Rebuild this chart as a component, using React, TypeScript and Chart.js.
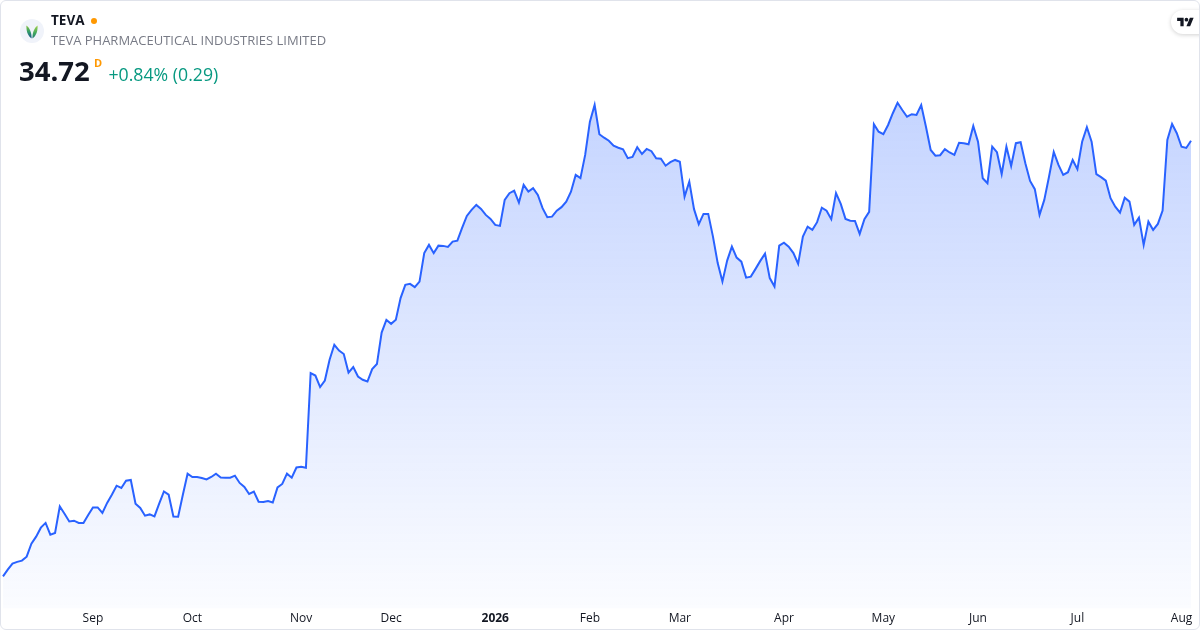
import React, { useEffect, useRef } from "react";
import { Chart, registerables } from "chart.js";

Chart.register(...registerables);

// Daily closes, one per trading day (Aug 5 2025 .. Aug 5 2026)
const prices: number[] = [
  17.28, 17.55, 17.79, 17.86, 17.91, 18.07, 18.59, 18.87, 19.23, 19.42,
  18.95, 19.02, 20.08, 19.79, 19.48, 19.51, 19.42, 19.42, 19.74, 20.04,
  20.04, 19.82, 20.22, 20.55, 20.91, 20.82, 21.11, 21.14, 20.19, 20.02,
  19.71, 19.76, 19.68, 20.19, 20.68, 20.55, 19.68, 19.67, 20.55, 21.39,
  21.26, 21.26, 21.22, 21.16, 21.26, 21.39, 21.24, 21.23, 21.23, 21.31,
  21.02, 20.86, 20.58, 20.67, 20.27, 20.26, 20.30, 20.24, 20.84, 20.98,
  21.39, 21.23, 21.64, 21.67, 21.63, 25.42, 25.32, 24.86, 25.12, 25.95,
  26.55, 26.32, 26.18, 25.44, 25.66, 25.28, 25.15, 25.08, 25.58, 25.78,
  27.04, 27.55, 27.39, 27.55, 28.42, 28.95, 28.99, 28.86, 29.08, 30.22,
  30.55, 30.22, 30.52, 30.51, 30.47, 30.68, 30.72, 31.23, 31.71, 31.95,
  32.15, 31.99, 31.75, 31.59, 31.35, 31.31, 32.35, 32.62, 32.72, 32.24,
  32.95, 32.68, 32.82, 32.55, 32.02, 31.66, 31.68, 31.92, 32.06, 32.28,
  32.68, 33.35, 33.22, 34.15, 35.48, 36.15, 34.98, 34.84, 34.72, 34.52,
  34.44, 34.38, 34.02, 34.07, 34.46, 34.19, 34.39, 34.30, 34.02, 34.00,
  33.72, 33.86, 33.95, 33.88, 32.48, 33.08, 31.98, 31.38, 31.79, 31.79,
  30.88, 29.82, 29.08, 29.92, 30.48, 30.04, 29.88, 29.24, 29.28, 29.59,
  29.91, 30.20, 29.22, 28.88, 30.52, 30.64, 30.48, 30.22, 29.79, 30.88,
  31.28, 31.15, 31.46, 32.04, 31.92, 31.58, 32.62, 32.19, 31.59, 31.52,
  31.51, 30.99, 31.58, 31.87, 35.38, 35.08, 34.98, 35.35, 35.82, 36.24,
  35.95, 35.68, 35.78, 35.75, 36.15, 35.28, 34.35, 34.12, 34.14, 34.38,
  34.25, 34.15, 34.64, 34.62, 34.58, 35.31, 34.68, 33.22, 33.02, 34.48,
  34.26, 33.39, 34.48, 33.71, 34.62, 34.66, 33.82, 33.11, 32.78, 31.75,
  32.35, 33.28, 34.27, 33.75, 33.35, 33.46, 33.95, 33.58, 34.68, 35.26,
  34.68, 33.38, 33.26, 33.12, 32.42, 32.08, 31.84, 32.44, 32.28, 31.35,
  31.64, 30.55, 31.48, 31.15, 31.39, 31.92, 34.75, 35.39, 35.02, 34.48,
  34.43, 34.72,
];

const tickLabels: string[] = ["Sep", "Oct", "Nov", "Dec", "2026", "Feb", "Mar", "Apr", "May", "Jun", "Jul", "Aug"];
// index of the first trading day of each month in `prices`
const tickIndices: number[] = [19, 40, 63, 82, 104, 124, 143, 165, 186, 206, 227, 249];

const symbol = "TEVA";
const companyName = "TEVA PHARMACEUTICAL INDUSTRIES LIMITED";
const lastPrice = "34.72";
const changeText = "+0.84% (0.29)";

const yMin = 15.99;
const yMax = 36.75;

const FONT = "'Open Sans', 'Noto Sans', sans-serif";

function Logo() {
  return (
    <svg width="24" height="24" viewBox="0 0 24 24" style={{ position: "absolute", left: 19, top: 18 }}>
      <defs>
        <linearGradient id="lg1" x1="0" y1="0" x2="0" y2="1">
          <stop offset="0" stopColor="#8cc63f" />
          <stop offset="0.5" stopColor="#2f9a6b" />
          <stop offset="1" stopColor="#1c4f8c" />
        </linearGradient>
        <linearGradient id="lg2" x1="0" y1="0" x2="0" y2="1">
          <stop offset="0" stopColor="#a5d34a" />
          <stop offset="0.6" stopColor="#3fa65e" />
          <stop offset="1" stopColor="#237a78" />
        </linearGradient>
      </defs>
      <circle cx="12" cy="12" r="12" fill="#f0f3fa" />
      <path d="M11.6 19.5 C8.2 17 6.2 13 6.4 6.4 C9.6 8.6 11.6 13 11.6 19.5 Z" fill="url(#lg1)" />
      <path d="M12.4 19.5 C15.8 17 17.8 13 17.6 6.4 C14.4 8.6 12.4 13 12.4 19.5 Z" fill="url(#lg2)" />
    </svg>
  );
}

export default function App() {
  const canvasRef = useRef<HTMLCanvasElement | null>(null);

  useEffect(() => {
    if (!canvasRef.current) return;
    const labels = prices.map((_, i) => {
      const k = tickIndices.indexOf(i);
      return k >= 0 ? tickLabels[k] : "";
    });
    const chart = new Chart(canvasRef.current, {
      type: "line",
      data: {
        labels,
        datasets: [
          {
            data: prices,
            borderColor: "#2962ff",
            borderWidth: 2,
            pointRadius: 0,
            pointHoverRadius: 0,
            tension: 0,
            fill: "start",
            backgroundColor: (ctx: any) => {
              const { chart } = ctx;
              const area = chart.chartArea;
              if (!area) return "rgba(41,98,255,0.15)";
              const g = chart.ctx.createLinearGradient(0, area.top, 0, area.bottom);
              g.addColorStop(0, "rgba(41,98,255,0.28)");
              g.addColorStop(1, "rgba(41,98,255,0.02)");
              return g;
            },
          },
        ],
      },
      options: {
        animation: false,
        responsive: false,
        devicePixelRatio: 1,
        layout: { padding: { left: 3, right: 9, top: 90, bottom: 1 } },
        plugins: { legend: { display: false }, tooltip: { enabled: false } },
        scales: {
          x: {
            type: "category",
            offset: false,
            grid: { display: false, drawTicks: false },
            border: { display: false },
            ticks: {
              autoSkip: false,
              maxRotation: 0,
              minRotation: 0,
              padding: 3,
              color: "#131722",
              font: (ctx: any) => ({
                family: FONT,
                size: 12,
                weight: ctx.tick && ctx.tick.label === "2026" ? "bold" : "normal",
              }),
            },
          },
          y: { display: false, min: yMin, max: yMax },
        },
      },
    });
    return () => chart.destroy();
  }, []);

  return (
    <div
      style={{
        position: "fixed",
        left: 0,
        top: 0,
        width: 1200,
        height: 630,
        boxSizing: "border-box",
        border: "1px solid #e0e3eb",
        borderRadius: 6,
        overflow: "hidden",
        background: "#ffffff",
        fontFamily: FONT,
      }}
    >
      <canvas
        ref={canvasRef}
        width={1200}
        height={630}
        style={{ position: "absolute", left: -1, top: -1, width: 1200, height: 630 }}
      />
      <Logo />
      <div style={{ position: "absolute", left: 50, top: 13, fontSize: 13.5, lineHeight: "13.5px", fontWeight: 700, color: "#131722" }}>
        {symbol}
      </div>
      <div style={{ position: "absolute", left: 90, top: 17, width: 6, height: 6, borderRadius: 3, background: "#ff9800" }} />
      <div style={{ position: "absolute", left: 50, top: 33.2, fontSize: 13, lineHeight: "13px", color: "#787b86", whiteSpace: "nowrap" }}>
        {companyName}
      </div>
      <div style={{ position: "absolute", left: 18, top: 56.2, fontSize: 27.5, lineHeight: "27.5px", fontWeight: 700, color: "#131722" }}>
        {lastPrice}
      </div>
      <div style={{ position: "absolute", left: 93, top: 55.9, fontSize: 11, lineHeight: "11px", fontWeight: 700, color: "#ff9800" }}>
        D
      </div>
      <div style={{ position: "absolute", left: 107.5, top: 64.9, fontSize: 17.7, lineHeight: "17.7px", color: "#089981", whiteSpace: "nowrap" }}>
        {changeText}
      </div>
      <div
        style={{
          position: "absolute",
          left: 1170,
          top: 9,
          width: 44,
          height: 24,
          borderRadius: 12,
          background: "#ffffff",
          boxShadow: "0 1px 4px rgba(0,0,0,0.18)",
        }}
      >
        <svg width="17" height="13" viewBox="0 0 36 28" style={{ position: "absolute", left: 6, top: 5.5 }}>
          <path d="M14 22H7V11H0V4h14v18zM28 22h-8l7.5-18h8L28 22z" fill="#131722" />
          <circle cx="20" cy="8" r="4" fill="#131722" />
        </svg>
      </div>
    </div>
  );
}
